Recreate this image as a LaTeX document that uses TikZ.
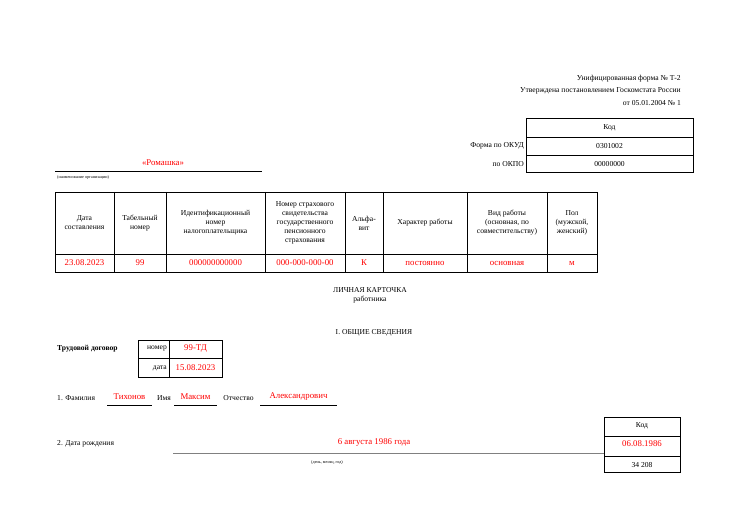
\documentclass[tikz,border=0pt]{standalone}
\usepackage{fontspec}
\setmainfont{Liberation Serif}
\begin{document}
\begin{tikzpicture}[x=1pt,y=-1pt,
  t/.style={font=\fontsize{7.6}{9}\selectfont,inner sep=0pt,align=center},
  r/.style={t,text=red,font=\fontsize{8.8}{10}\selectfont},
  tiny/.style={inner sep=0pt,font=\fontsize{4.2}{5}\selectfont},
  box/.style={draw,line width=0.7pt}]
\useasboundingbox (0,0) rectangle (738,521);
% header
\node[t,anchor=east] (h1) at (681,79) {Унифицированная форма № Т-2};
\node[t,anchor=east] (h2) at (681,91) {Утверждена постановлением Госкомстата России};
\node[t,anchor=east] (h3) at (681,103) {от 05.01.2004 № 1};
% code box
\draw[box] (526,118) rectangle (693,172);
\draw[box] (526,137) -- (693,137) (526,155) -- (693,155);
\node[t] (k1) at (609.5,128) {Код};
\node[t] (k2) at (609.5,146) {0301002};
\node[t] (k3) at (609.5,164) {00000000};
\node[t,anchor=east] (l1) at (524,146) {Форма по ОКУД};
\node[t,anchor=east] (l2) at (524,164) {по ОКПО};
% org
\node[r] (org) at (163,163) {«Ромашка»};
\draw[line width=0.6pt] (55,171) -- (262,171);
\node[tiny,anchor=west] (orgc) at (57,177) {(наименование организации)};
% main table
\draw[box] (55,192) rectangle (597,272);
\draw[box] (55,254) -- (597,254);
\foreach \x in {114,166,265,345,383,467,547} \draw[box] (\x,192) -- (\x,272);
\node[t] (c1) at (84.5,223) {Дата\\составления};
\node[t] (c2) at (140,223) {Табельный\\номер};
\node[t] (c3) at (215.5,223) {Идентификационный\\номер\\налогоплательщика};
\node[t] (c4) at (305,223) {Номер страхового\\свидетельства\\государственного\\пенсионного\\страхования};
\node[t] (c5) at (364,223) {Альфа-\\вит};
\node[t] (c6) at (425,223) {Характер работы};
\node[t] (c7) at (507,223) {Вид работы\\(основная, по\\совместительству)};
\node[t] (c8) at (572,223) {Пол\\(мужской,\\женский)};
\node[r] (v1) at (84.5,263) {23.08.2023};
\node[r] (v2) at (140,263) {99};
\node[r] (v3) at (215.5,263) {000000000000};
\node[r] (v4) at (305,263) {000-000-000-00};
\node[r] (v5) at (364,263) {К};
\node[r] (v6) at (425,263) {постоянно};
\node[r] (v7) at (507,263) {основная};
\node[r] (v8) at (572,263) {м};
% title
\node[t] (tt1) at (370,290) {ЛИЧНАЯ КАРТОЧКА};
\node[t] (tt2) at (370,300) {работника};
\node[t] (tt3) at (374,333) {I. ОБЩИЕ СВЕДЕНИЯ};
% contract
\node[t,anchor=west,font=\bfseries\fontsize{7.6}{9}\selectfont] (td) at (57,349) {Трудовой договор};
\draw[box] (138,340) rectangle (222,377);
\draw[box] (138,358.5) -- (222,358.5) (169,340) -- (169,377);
\node[t,anchor=east] (n1) at (167,349) {номер};
\node[t,anchor=east] (n2) at (167,368) {дата};
\node[r] (n3) at (195.5,349) {99-ТД};
\node[r] (n4) at (195.5,368) {15.08.2023};
% names
\node[t,anchor=west] (f0) at (57,398) {1. Фамилия};
\node[r] (f1) at (129.5,397) {Тихонов};
\draw[line width=0.6pt] (107,405) -- (152,405);
\node[t] (f2) at (164,398) {Имя};
\node[r] (f3) at (195.5,397) {Максим};
\draw[line width=0.6pt] (174,405) -- (217,405);
\node[t] (f4) at (238.5,398) {Отчество};
\node[r] (f5) at (298.5,397) {Александрович};
\draw[line width=0.6pt] (260,405) -- (337,405);
% birth
\draw[box] (604,417) rectangle (680,472);
\draw[box] (604,436) -- (680,436) (604,456) -- (680,456);
\node[t] (b1) at (642,426) {Код};
\node[r] (b2) at (642,444) {06.08.1986};
\node[t] (b3) at (642,465) {34 208};
\node[t,anchor=west] (b0) at (57,444) {2. Дата рождения};
\node[r] (b4) at (374,443) {6 августа 1986 года};
\draw[line width=1pt,gray] (173,453) -- (604,453);
\node[tiny] (b5) at (327,462) {(день, месяц, год)};
\end{tikzpicture}
\end{document}
